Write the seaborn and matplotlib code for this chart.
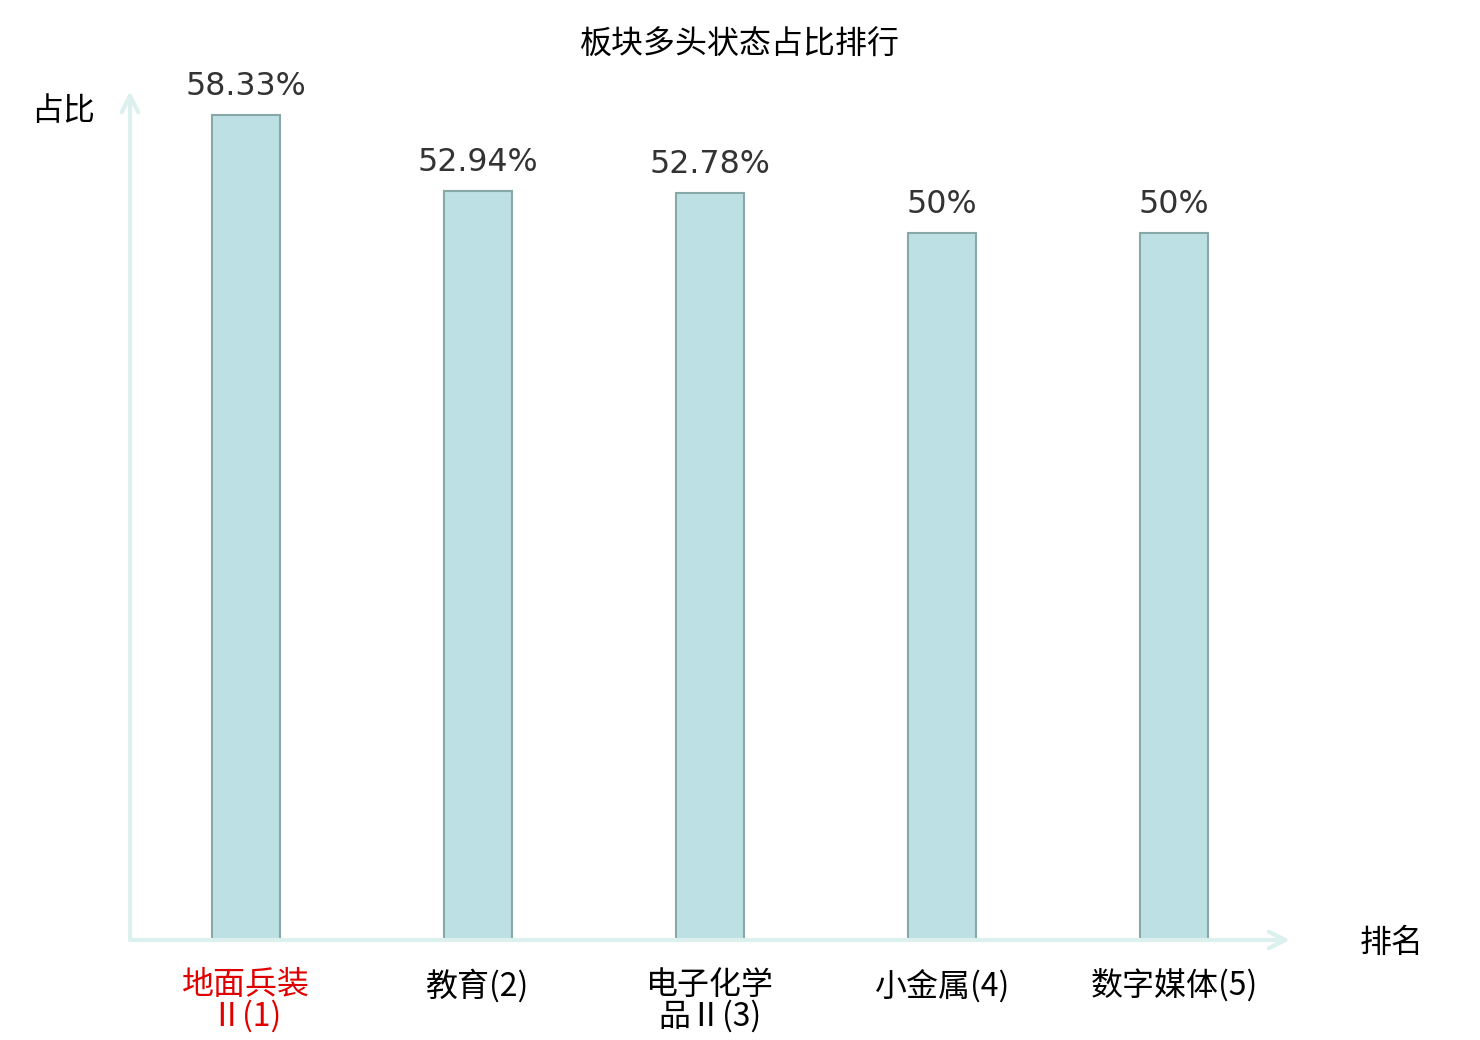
import matplotlib
matplotlib.use("Agg")
import matplotlib.pyplot as plt
import seaborn as sns
import pandas as pd

names = ["地面兵装Ⅱ", "教育", "电子化学品Ⅱ", "小金属", "数字媒体"]
ranks = [1, 2, 3, 4, 5]
ratios = [58.33, 52.94, 52.78, 50.0, 50.0]
value_labels = ["58.33%", "52.94%", "52.78%", "50%", "50%"]

title = "板块多头状态占比排行"
ylabel = "占比"
xlabel = "排名"


def wrap(s, n=4, limit=7):
    # break long labels after the first few characters
    if len(s) > limit:
        return s[:n] + "\n" + s[n:]
    return s


tick_labels = [wrap(f"{n}({r})") for n, r in zip(names, ranks)]
df = pd.DataFrame({"label": tick_labels, "ratio": ratios})

sns.set_style("white")
plt.rcParams["font.family"] = ["Noto Sans CJK SC", "DejaVu Sans"]

fig = plt.figure(figsize=(14.8, 10.4), dpi=100)
ax = fig.add_axes([130 / 1480, 100 / 1040, 1160 / 1480, 849 / 1040])

sns.barplot(data=df, x="label", y="ratio", ax=ax, color="#bce0e3",
            width=0.295, edgecolor="#88a8a8", linewidth=1.5, saturation=1)

ax.set_xlim(-0.5, 4.5)
ax.set_ylim(0, 60)

for i, (v, t) in enumerate(zip(ratios, value_labels)):
    ax.text(i, v + 0.9, t, ha="center", va="bottom", fontsize=22.8,
            color="#333333", family="DejaVu Sans")

for s in ax.spines.values():
    s.set_visible(False)

axis_col = "#dcf1ee"
ax.annotate("", xy=(4.5, 0), xytext=(-0.5, 0),
            arrowprops=dict(arrowstyle="->", color=axis_col, lw=3,
                            mutation_scale=30, shrinkA=0, shrinkB=0),
            annotation_clip=False)
ax.annotate("", xy=(-0.5, 60), xytext=(-0.5, 0),
            arrowprops=dict(arrowstyle="->", color=axis_col, lw=3,
                            mutation_scale=30, shrinkA=0, shrinkB=0),
            annotation_clip=False)

ax.set_yticks([])
ax.set_xlabel("")
ax.set_ylabel("")
ax.tick_params(axis="x", length=0, pad=21, labelsize=23, labelcolor="black")
for lab in ax.get_xticklabels():
    lab.set_linespacing(0.95)
    lab.set_va("top")
ax.get_xticklabels()[0].set_color("#e00000")

fig.text(740 / 1480, 1 - 45 / 1040, title, ha="center", va="center",
         fontsize=23, color="black")
fig.text(63 / 1480, 1 - 111 / 1040, ylabel, ha="center", va="center",
         fontsize=23, color="black")
fig.text(1392 / 1480, 1 - 943 / 1040, xlabel, ha="center", va="center",
         fontsize=23, color="black")

fig.savefig("out.png", dpi=100)
